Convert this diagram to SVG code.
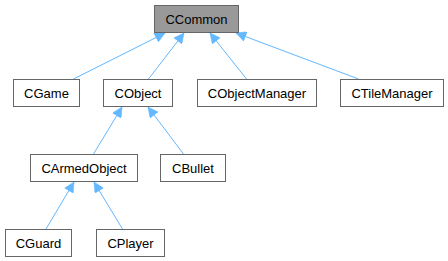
<svg xmlns="http://www.w3.org/2000/svg" width="448" height="261" viewBox="0 0 448 261">
  <style>
    .node rect { fill: #ffffff; stroke: #666666; stroke-width: 1; }
    .node.root rect { fill: #999999; }
    .node text { font-family: "Liberation Sans", Arial, Helvetica, sans-serif; font-size: 13px; fill: #000000; text-anchor: middle; }
    .edge { fill: none; stroke: #63b8ff; stroke-width: 1; marker-end: url(#inherit); }
  </style>
  <defs>
    <marker id="inherit" viewBox="0 0 10 10" refX="10" refY="5" markerUnits="userSpaceOnUse" markerWidth="11" markerHeight="10" orient="auto">
      <path d="M0,0 L10,5 L0,10 z" fill="#63b8ff" stroke="#63b8ff" stroke-width="0.5"/>
    </marker>
  </defs>
  <rect width="448" height="261" fill="#ffffff"/>

  <!-- inheritance connectors: child -> base class -->
  <g id="edges">
    <path class="edge" d="M73.5,79 L165,33"/>
    <path class="edge" d="M148.5,79 L184,33"/>
    <path class="edge" d="M246.5,79 L210,33"/>
    <path class="edge" d="M358.5,79 L236,33"/>
    <path class="edge" d="M93.5,154 L122,107"/>
    <path class="edge" d="M183.5,154 L148,107"/>
    <path class="edge" d="M46,229 L74,182"/>
    <path class="edge" d="M122.5,229 L94,182"/>
  </g>

  <g id="CCommon" class="node root">
    <rect x="154.5" y="5.5" width="84" height="27"/>
    <text x="196.5" y="23.5">CCommon</text>
  </g>
  <g id="CGame" class="node">
    <rect x="13.5" y="79.5" width="66" height="27"/>
    <text x="46.5" y="97.5">CGame</text>
  </g>
  <g id="CObject" class="node">
    <rect x="103.5" y="79.5" width="69" height="27"/>
    <text x="138" y="97.5">CObject</text>
  </g>
  <g id="CObjectManager" class="node">
    <rect x="197.5" y="79.5" width="119" height="27"/>
    <text x="257" y="97.5">CObjectManager</text>
  </g>
  <g id="CTileManager" class="node">
    <rect x="340.5" y="79.5" width="103" height="27"/>
    <text x="392" y="97.5">CTileManager</text>
  </g>
  <g id="CArmedObject" class="node">
    <rect x="30.5" y="154.5" width="107" height="27"/>
    <text x="84" y="172.5">CArmedObject</text>
  </g>
  <g id="CBullet" class="node">
    <rect x="160.5" y="154.5" width="65" height="27"/>
    <text x="193" y="172.5">CBullet</text>
  </g>
  <g id="CGuard" class="node">
    <rect x="5.5" y="229.5" width="66" height="27"/>
    <text x="38.5" y="247.5">CGuard</text>
  </g>
  <g id="CPlayer" class="node">
    <rect x="96.5" y="229.5" width="68" height="27"/>
    <text x="130.5" y="247.5">CPlayer</text>
  </g>
</svg>
